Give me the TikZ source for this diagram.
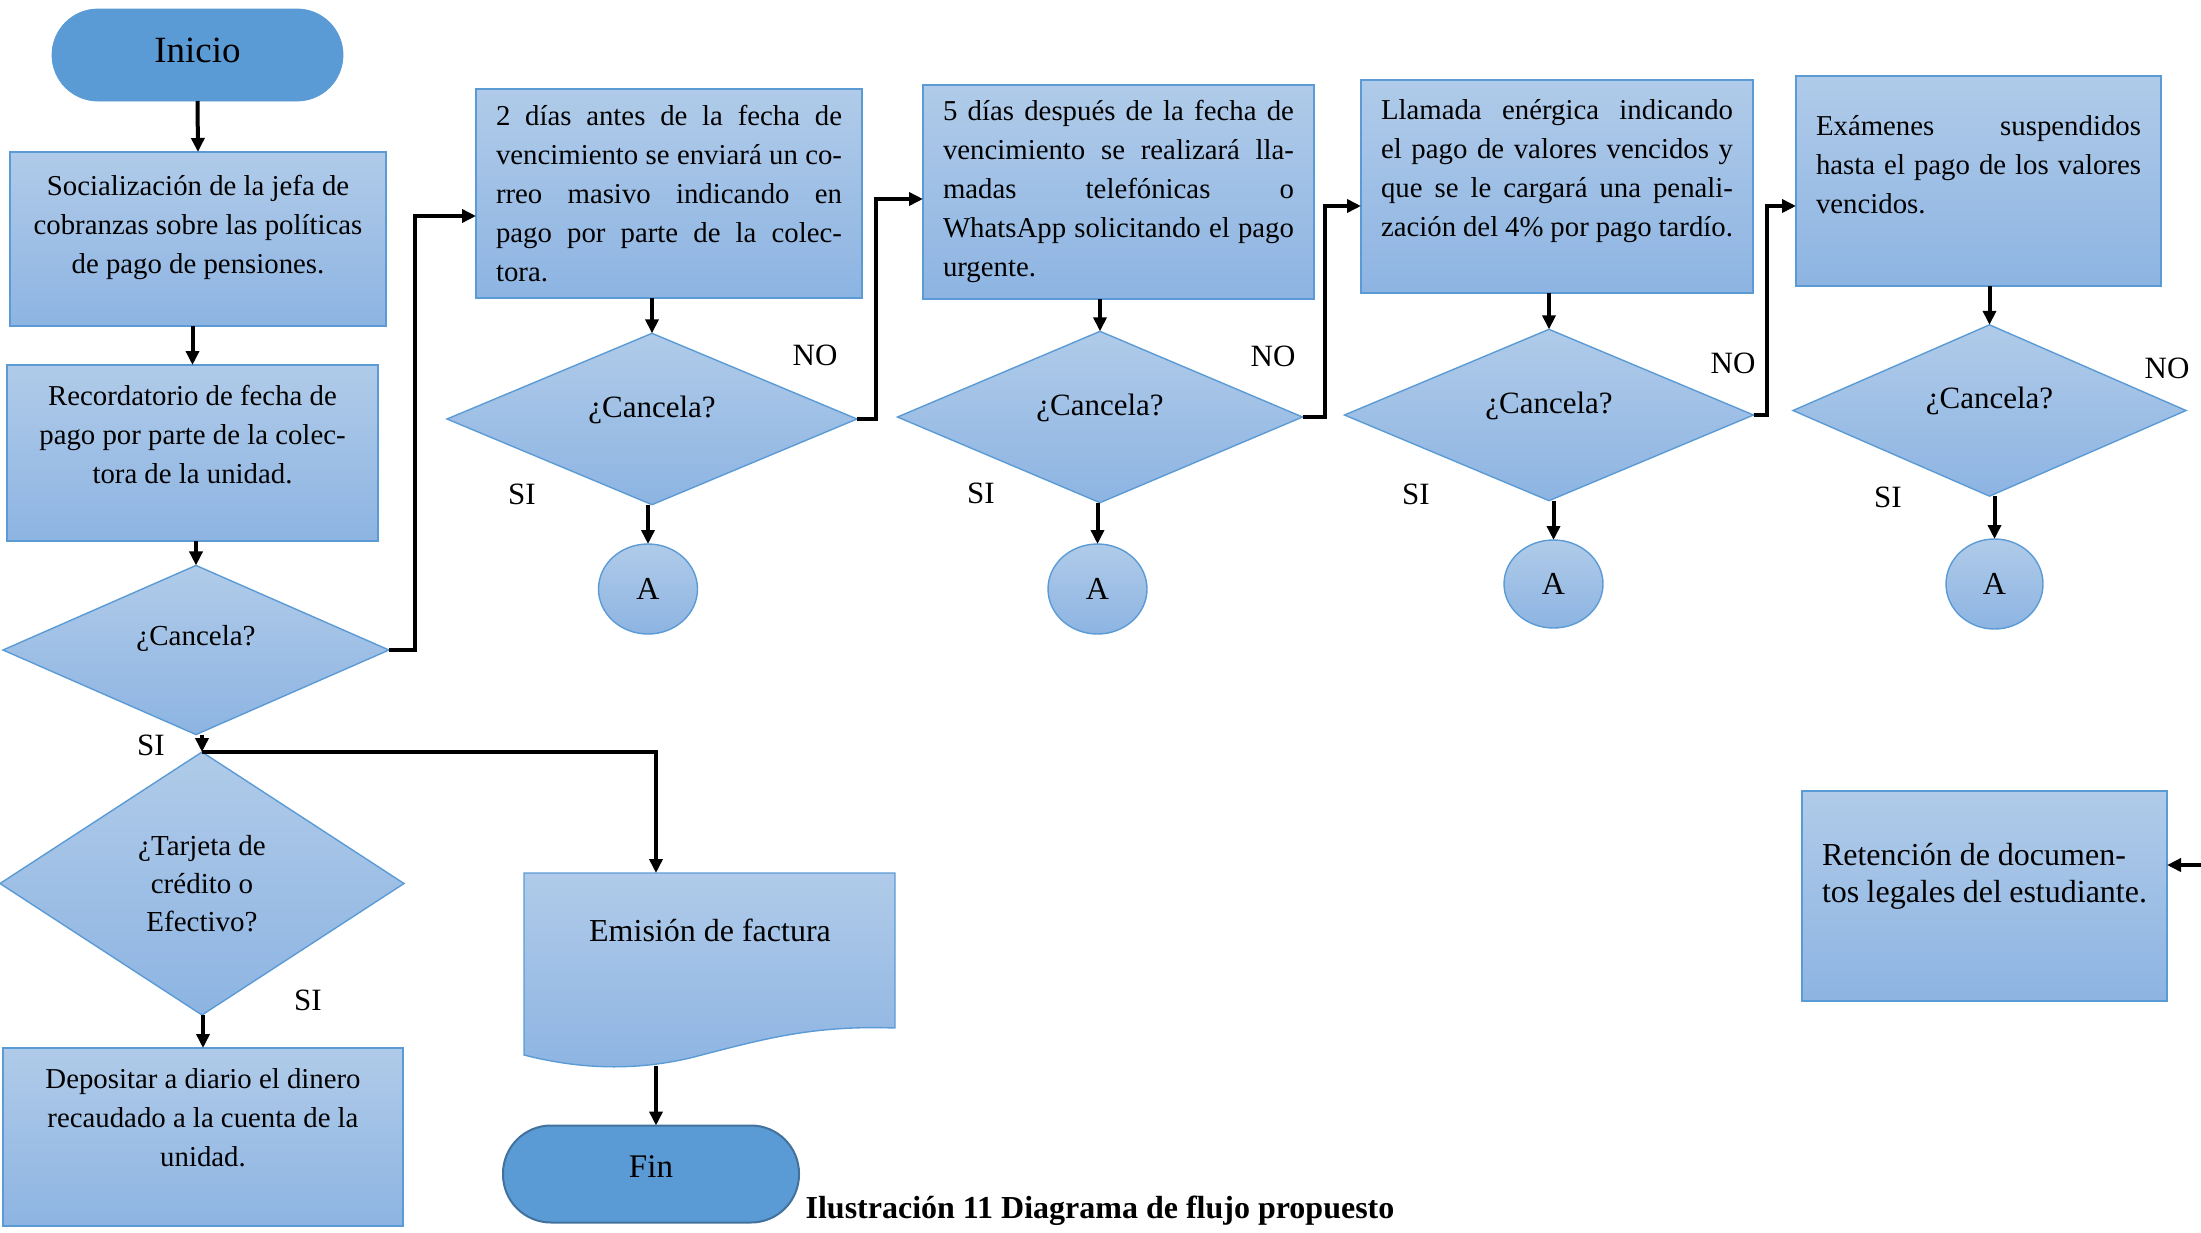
\documentclass[tikz,border=0pt]{standalone}
\usepackage{fontspec}
\setmainfont{Liberation Serif}
\usetikzlibrary{shapes.geometric,arrows.meta}

\definecolor{boxtop}{HTML}{B0CBE9}
\definecolor{boxbot}{HTML}{8DB4E2}
\definecolor{edgeblue}{HTML}{5B9BD5}
\definecolor{termblue}{HTML}{5B9BD5}
\definecolor{termedge}{HTML}{41719C}

\newcommand{\boxtext}{\fontsize{14.4}{19.5}\selectfont}
\newcommand{\jline}[1]{\makebox[\linewidth][s]{#1}\\}

\begin{document}
\begin{tikzpicture}[x=0.5pt,y=-0.5pt,
    proc/.style={rectangle, draw=edgeblue, line width=0.7pt, top color=boxtop, bottom color=boxbot,
                 inner xsep=10pt, inner ysep=3pt, outer sep=0pt, font=\boxtext},
    decbase/.style={diamond, draw=edgeblue, line width=0.7pt, top color=boxtop, bottom color=boxbot,
                 inner sep=0pt, outer sep=0pt},
    dec/.style={decbase, text height=10pt, text depth=12pt, font=\fontsize{15.5}{18}\selectfont},
    conn/.style={ellipse, draw=edgeblue, line width=0.7pt, top color=boxtop, bottom color=boxbot,
                 inner sep=0pt, outer sep=0pt, font=\fontsize{16}{18}\selectfont},
    term/.style={rectangle, fill=termblue, inner sep=0pt, outer sep=0pt},
    lbl/.style={inner sep=0pt, font=\fontsize{15.5}{18}\selectfont},
    arr/.style={-{Triangle[length=7pt,width=6.5pt]}, line width=2pt}]
    \useasboundingbox (0,0) rectangle (2201,1232);

    % Start and first column
    \node[term, draw=termblue, minimum width=145.5pt, minimum height=46pt, rounded corners=23pt,
          text height=13pt, text depth=6pt, font=\fontsize{18.5}{20}\selectfont] (ini) at (197.5,55) {Inicio};
    \node[proc] (soc) at (198,239) {\parbox[c][81pt][t]{168pt}{\vspace*{8.5pt}\centering
        Socialización de la jefa de\\cobranzas sobre las políticas\\de pago de pensiones.}};
    \node[proc] (rec) at (192.5,453) {\parbox[c][82pt][t]{165.5pt}{\vspace*{7pt}\centering
        Recordatorio de fecha de\\pago por parte de la colec-\\tora de la unidad.}};
    \node[decbase, minimum width=193pt, minimum height=80.5pt, text height=10pt, text depth=15pt,
          font=\fontsize{14.5}{18}\selectfont] (can1) at (196,650) {¿Cancela?};

    % Reminder steps along the top
    \node[proc] (aviso) at (669,193.5) {\parbox[c][98.5pt][t]{173pt}{\vspace*{5pt}%
        \jline{2 días antes de la fecha de}\jline{vencimiento se enviará un co-}%
        \jline{rreo masivo indicando en}\jline{pago por parte de la colec-}tora.}};
    \node[dec, minimum width=205pt, minimum height=81pt] (can2) at (652,419) {¿Cancela?};
    \node[conn, minimum width=49.5pt, minimum height=45pt] (conA1) at (648,589) {A};

    \node[proc] (llam) at (1118.5,192) {\parbox[c][101pt][t]{175.5pt}{\vspace*{4.5pt}%
        \jline{5 días después de la fecha de}\jline{vencimiento se realizará lla-}%
        \jline{madas telefónicas o}\jline{WhatsApp solicitando el pago}urgente.}};
    \node[dec, minimum width=202.5pt, minimum height=81pt] (can3) at (1100,417) {¿Cancela?};
    \node[conn, minimum width=49.5pt, minimum height=45pt] (conA2) at (1097.5,589) {A};

    \node[proc] (pen) at (1557,186.5) {\parbox[c][100.5pt][t]{176pt}{\vspace*{6.5pt}%
        \jline{Llamada enérgica indicando}\jline{el pago de valores vencidos y}%
        \jline{que se le cargará una penali-}\jline{zación del 4\% por pago tardío.}}};
    \node[dec, minimum width=204.5pt, minimum height=82pt] (can4) at (1549,415) {¿Cancela?};
    \node[conn, minimum width=49.5pt, minimum height=44pt] (conA3) at (1553.5,584) {A};

    \node[proc] (exa) at (1978.5,181) {\parbox[c][99pt][t]{162.5pt}{\vspace*{16.5pt}%
        \jline{Exámenes suspendidos}\jline{hasta el pago de los valores}vencidos.}};
    \node[dec, minimum width=196.5pt, minimum height=81.5pt] (can5) at (1989.5,410.5) {¿Cancela?};
    \node[conn, minimum width=48.5pt, minimum height=45pt] (conA4) at (1994.5,584) {A};

    \node[proc, font=\fontsize{16}{18.5}\selectfont] (ret) at (1984.5,896) {\parbox[c][99pt][t]{162.5pt}{\vspace*{23pt}%
        Retención de documen-\\tos legales del estudiante.}};

    % Payment branch
    \node[decbase, minimum width=202pt, minimum height=131.5pt, align=center,
          font=\fontsize{14.5}{19}\selectfont] (tar) at (202,883.5) {¿Tarjeta de\\crédito o\\Efectivo?};
    \node[proc] (dep) at (203,1137) {\parbox[c][83pt][t]{180pt}{\vspace*{7.5pt}\centering
        Depositar a diario el dinero\\recaudado a la cuenta de la\\unidad.}};

    % Invoice document
    \path[draw=edgeblue, line width=0.7pt, top color=boxtop, bottom color=boxbot]
        (524,873) -- (895,873) -- (895,1028)
        .. controls (810,1025) and (760,1040) .. (690,1058)
        .. controls (630,1072) and (575,1068) .. (524,1055) -- cycle;
    \node[font=\fontsize{16}{18}\selectfont] (fac) at (710,930) {Emisión de factura};
    \coordinate (factop) at (656,873);
    \coordinate (facbot) at (656,1066);
    \node[term, draw=termedge, line width=1pt, minimum width=148pt, minimum height=48.5pt,
          rounded corners=24pt, text height=12pt, text depth=9pt,
          font=\fontsize{16.5}{18}\selectfont] (fin) at (651,1174) {Fin};

    % Labels
    \node[lbl] (si1) at (151,745) {SI};
    \node[lbl] (si2) at (522,494) {SI};
    \node[lbl] (no2) at (815,355) {NO};
    \node[lbl] (si3) at (981,493) {SI};
    \node[lbl] (no3) at (1273,356) {NO};
    \node[lbl] (si4) at (1416,494) {SI};
    \node[lbl] (no4) at (1733,363) {NO};
    \node[lbl] (si5) at (1888,497) {SI};
    \node[lbl] (no5) at (2167,368) {NO};
    \node[lbl] (si6) at (308,1000) {SI};

    % Caption
    \node[font=\bfseries\fontsize{16}{19}\selectfont] (cap) at (1100,1211) {Ilustración 11 Diagrama de flujo propuesto};

    % Vertical connectors
    \draw[arr] (ini.south) -- (soc.north);
    \draw[arr] (rec.north |- soc.south) -- (rec.north);
    \draw[arr] (can1.north |- rec.south) -- (can1.north);
    \draw[arr] (can2.north |- aviso.south) -- (can2.north);
    \draw[arr] (conA1.north |- can2.south) -- (conA1.north);
    \draw[arr] (can3.north |- llam.south) -- (can3.north);
    \draw[arr] (conA2.north |- can3.south) -- (conA2.north);
    \draw[arr] (can4.north |- pen.south) -- (can4.north);
    \draw[arr] (conA3.north |- can4.south) -- (conA3.north);
    \draw[arr] (can5.north |- exa.south) -- (can5.north);
    \draw[arr] (conA4.north |- can5.south) -- (conA4.north);
    \draw[arr] (tar.north |- can1.south) -- (tar.north);
    \draw[arr] (dep.north |- tar.south) -- (dep.north);
    \draw[arr] (facbot) -- (facbot |- fin.north);
    \draw[arr] (tar.north) -| (factop);

    % NO branches
    \coordinate (j1) at (415,216);
    \coordinate (j2) at (876,199);
    \coordinate (j3) at (1325,206);
    \coordinate (j4) at (1767,206);
    \draw[arr] (can1.east) -| (j1) -- (j1 -| aviso.west);
    \draw[arr] (can2.east) -| (j2) -- (j2 -| llam.west);
    \draw[arr] (can3.east) -| (j3) -- (j3 -| pen.west);
    \draw[arr] (can4.east) -| (j4) -- (j4 -| exa.west);

    % Incoming arrow to retention
    \coordinate (r7) at (2201,865);
    \draw[arr] (r7) -- (r7 -| ret.east);
\end{tikzpicture}
\end{document}
